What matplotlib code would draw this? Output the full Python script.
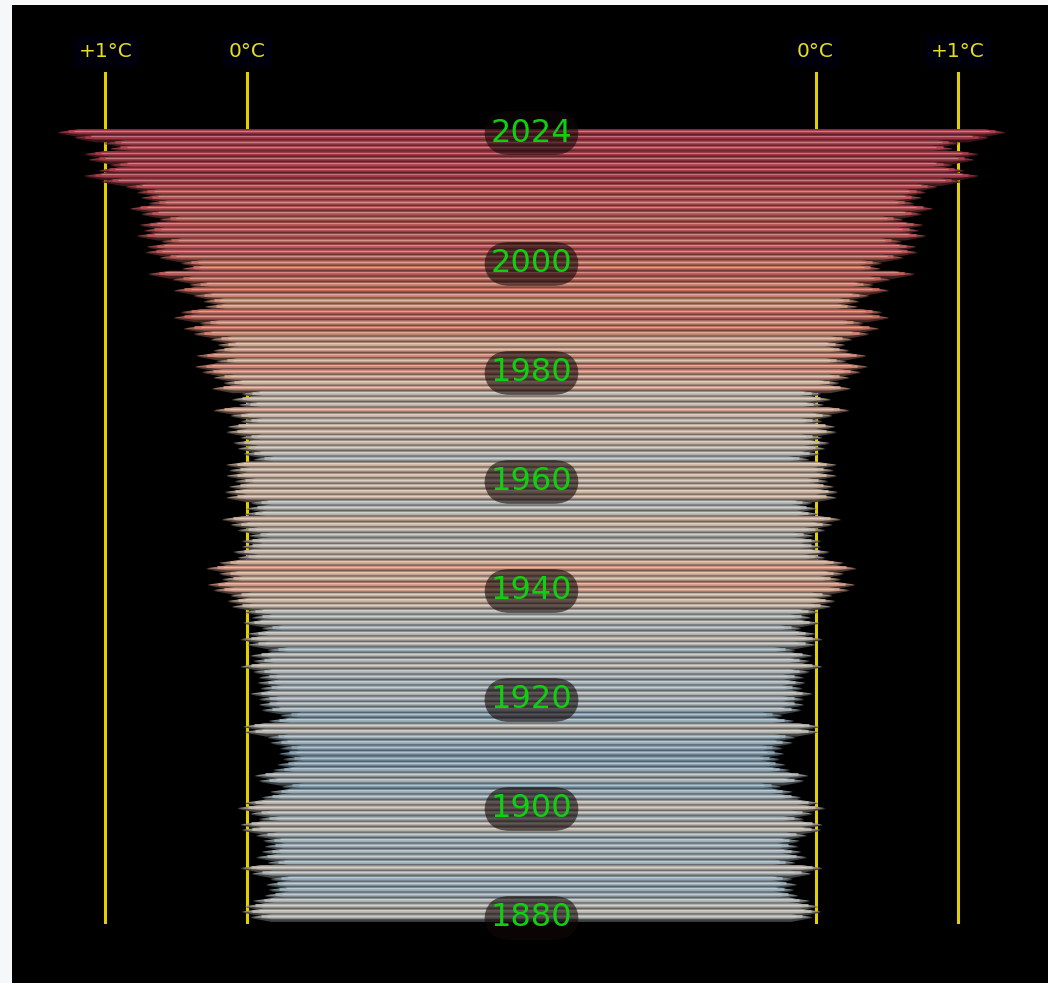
import numpy as np
import matplotlib.pyplot as plt
from matplotlib.colors import LinearSegmentedColormap, to_rgb

# yearly temperature anomaly (deg C)
years = list(range(1880, 2025))
anomaly = [
    -0.02, 0.04, 0.02, -0.04, -0.12, -0.15, -0.13, -0.16, -0.03, 0.05,
    -0.14, -0.06, -0.10, -0.12, -0.11, -0.06, 0.04, 0.05, -0.08, -0.02,
    0.07, 0.02, -0.10, -0.16, -0.24, -0.08, -0.05, -0.18, -0.21, -0.25,
    -0.22, -0.23, -0.16, -0.14, 0.02, 0.03, -0.15, -0.23, -0.10, -0.08,
    -0.08, -0.02, -0.09, -0.07, -0.08, -0.04, 0.05, -0.04, -0.02, -0.14,
    0.00, 0.05, 0.00, -0.10, 0.03, -0.03, 0.02, 0.11, 0.14, 0.12,
    0.24, 0.28, 0.18, 0.20, 0.29, 0.20, 0.07, 0.10, 0.04, 0.04,
    -0.01, 0.07, 0.12, 0.18, 0.02, 0.01, -0.02, 0.15, 0.16, 0.13,
    0.09, 0.15, 0.13, 0.15, -0.04, 0.03, 0.07, 0.10, 0.05, 0.15,
    0.14, 0.05, 0.12, 0.24, 0.06, 0.11, 0.04, 0.25, 0.17, 0.24,
    0.32, 0.37, 0.22, 0.36, 0.24, 0.21, 0.26, 0.38, 0.45, 0.34,
    0.52, 0.47, 0.30, 0.31, 0.38, 0.52, 0.41, 0.53, 0.70, 0.46,
    0.47, 0.62, 0.72, 0.71, 0.61, 0.78, 0.73, 0.76, 0.62, 0.75,
    0.83, 0.70, 0.75, 0.78, 0.86, 1.03, 1.15, 1.05, 0.97, 1.12,
    1.15, 0.97, 1.01, 1.22, 1.34,
]
assert len(anomaly) == len(years)

label_years = [2024, 2000, 1980, 1960, 1940, 1920, 1900, 1880]
guide_offsets = [1, 0]
guide_labels = ["+1°C", "0°C"]

base = 2.0  # half length of a rod at 0 deg C
tip = 0.15
h = 0.72    # half thickness of a rod, in years

cmap = LinearSegmentedColormap.from_list("rods", [
    (0.00, "#7f9fb4"),
    (0.10, "#a4b6c0"),
    (0.18, "#bcbcb8"),
    (0.27, "#d4baa6"),
    (0.35, "#d89a84"),
    (0.47, "#cc6e60"),
    (0.60, "#c05a5a"),
    (0.78, "#b04450"),
    (0.92, "#a43444"),
    (1.00, "#c04858"),
])
vmin, vmax = -0.3, 1.4

fig = plt.figure(figsize=(10.48, 9.83), dpi=100, facecolor="#f6f7f9")
ax = fig.add_axes([12 / 1048, 0, 1036 / 1048, 978 / 983])
ax.set_facecolor("black")
ax.set_xlim(-3.658, 3.637)
ax.set_ylim(1868.07, 2047.5)
ax.set_xticks([])
ax.set_yticks([])
for s in ax.spines.values():
    s.set_visible(False)

# guide lines
for off, lab in zip(guide_offsets, guide_labels):
    for sign in (-1, 1):
        x = sign * (base + off)
        ax.plot([x, x], [1879.3, 2035.0], color="#e2cf00", lw=2.2, zorder=1)
        ax.text(x, 2038.9, lab, color="#e6dc20", fontsize=14.5, ha="center",
                va="center", zorder=5,
                bbox=dict(boxstyle="square,pad=0.3", fc="#00000c", ec="none"))

# rods, newest first so older rods sit in front
for yr, a in sorted(zip(years, anomaly), reverse=True):
    L = base + a
    c = np.array(to_rgb(cmap((a - vmin) / (vmax - vmin))))
    dark = c * 0.35
    mid = c * 0.75
    light = c + (1 - c) * 0.3
    xs = [-L, -L + tip, L - tip, L, L - tip, -L + tip]
    ys = [yr, yr + h, yr + h, yr, yr - h, yr - h]
    ax.fill(xs, ys, color=dark, lw=0, zorder=2)
    ys2 = [yr + 0.15, yr + h, yr + h, yr + 0.15, yr - h * 0.3, yr - h * 0.3]
    ax.fill(xs, ys2, color=mid, lw=0, zorder=2)
    ax.plot([-L + tip * 0.5, L - tip * 0.5], [yr + h * 0.5] * 2,
            color=c, lw=1.8, solid_capstyle="butt", zorder=2)
    ax.plot([-L + tip * 0.8, L - tip * 0.8], [yr + h * 0.6] * 2,
            color=light, lw=0.8, solid_capstyle="butt", zorder=2)

for yr in label_years:
    ax.text(0, yr, str(yr), color="#0fd00f", fontsize=23, ha="center",
            va="center", zorder=6,
            bbox=dict(boxstyle="round,pad=0.2,rounding_size=0.8",
                      fc="#140808", ec="none", alpha=0.6))

fig.savefig("out.png", dpi=100, facecolor=fig.get_facecolor())
